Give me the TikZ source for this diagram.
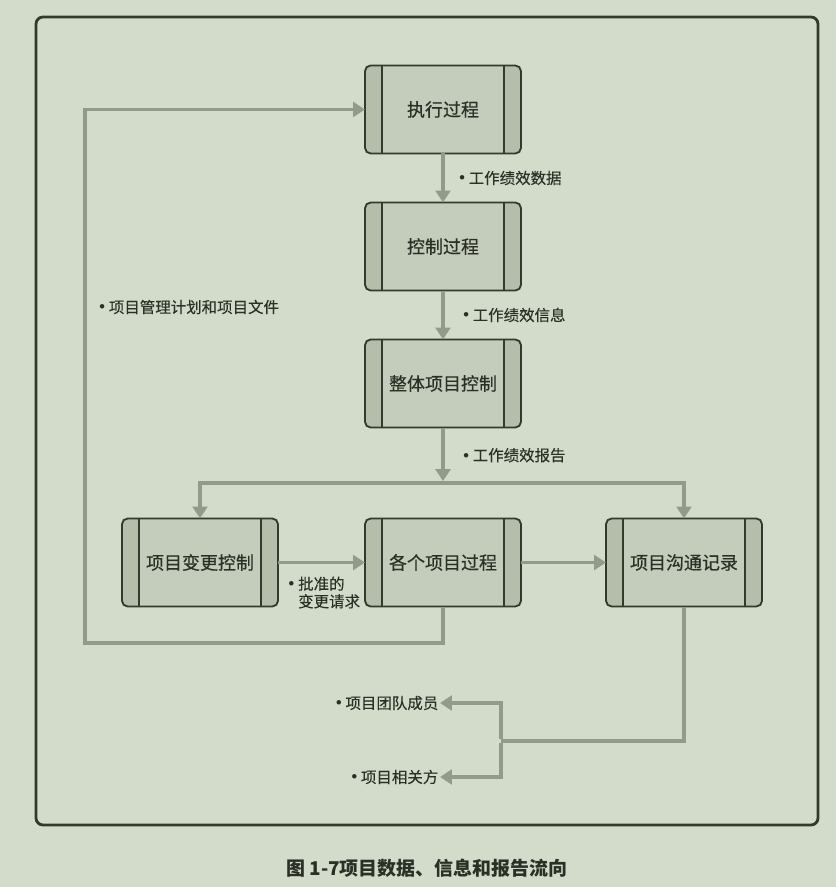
\documentclass[tikz,border=0pt]{standalone}
\usepackage{fontspec}
\setmainfont{Noto Sans CJK SC}
\newfontfamily\boxfont[FakeBold=0.5]{Noto Sans CJK SC}
\newfontfamily\lblfont[FakeBold=0.2]{Noto Sans CJK SC}
\newfontfamily\symfont{DejaVu Sans}
\newcommand{\bul}{{\symfont •}\hspace{1.5pt}}
\usetikzlibrary{arrows.meta, positioning}
\definecolor{bgcol}{RGB}{211,220,203}
\definecolor{nodefill}{RGB}{196,204,187}
\definecolor{stripfill}{RGB}{181,190,171}
\definecolor{nodeline}{RGB}{50,58,44}
\definecolor{arrowgray}{RGB}{145,155,138}
\definecolor{textdark}{RGB}{42,48,38}

\begin{document}
\begin{tikzpicture}[
    node distance=1.225cm,
    procbox/.style={rectangle, rounded corners=4pt, draw=nodeline,
                    line width=1.3pt, fill=nodefill, outer sep=0pt,
                    minimum width=3.9cm, minimum height=2.2cm,
                    text=textdark, font=\boxfont\fontsize{12.8}{15}\selectfont,
                    path picture={
                      \fill[stripfill, sharp corners] (path picture bounding box.north west)
                        rectangle ([xshift=0.425cm]path picture bounding box.south west);
                      \fill[stripfill, sharp corners] (path picture bounding box.north east)
                        rectangle ([xshift=-0.425cm]path picture bounding box.south east);
                      \draw[nodeline, line width=1.3pt] ([xshift=0.425cm]path picture bounding box.north west)
                        -- ([xshift=0.425cm]path picture bounding box.south west);
                      \draw[nodeline, line width=1.3pt] ([xshift=-0.425cm]path picture bounding box.north east)
                        -- ([xshift=-0.425cm]path picture bounding box.south east);
                    }},
    lbl/.style={inner sep=1pt, text=textdark, font=\lblfont\fontsize{11}{12.5}\selectfont},
    arr/.style={-{Triangle[length=8.5pt, width=10.5pt]}, line width=2.7pt, draw=arrowgray},
    conn/.style={line width=2.7pt, draw=arrowgray},
    frame/.style={draw=nodeline, line width=2pt, rounded corners=5pt}
]

%% ── Background and frame ──
\fill[bgcol] (0,0) rectangle (20.9,-22.175);
\useasboundingbox (0,0) rectangle (20.9,-22.175);
\draw[frame] (0.9,-0.425) rectangle (20.45,-20.625);

%% ── Column: main processes ──
\node[procbox] (exec) at (11.075,-2.7375) {执行过程};
\node[procbox, below=of exec]  (ctrl)  {控制过程};
\node[procbox, below=of ctrl]  (integ) {整体项目控制};

%% ── Row: change, processes, communication ──
\node[procbox, below=2.275cm of integ]  (proc) {各个项目过程};
\node[procbox, left=2.175cm of proc]    (chg)  {项目变更控制};
\node[procbox, right=2.125cm of proc]   (comm) {项目沟通记录};

%% ── Helper points ──
\coordinate (split)  at (11.075,-12.075);
\coordinate (loopbl) at (2.125,-16.075);
\coordinate (fork)   at (12.525,-18.525);

%% ── Vertical flow ──
\draw[arr] (exec) -- node[lbl, right=0.28cm] {\bul 工作绩效数据} (ctrl);
\draw[arr] (ctrl) -- node[lbl, right=0.38cm] {\bul 工作绩效信息} (integ);
\draw[arr, shorten >=1.35pt] (integ) -- node[lbl, right=0.38cm] {\bul 工作绩效报告} (split);
\draw[arr] (split) -| (chg);
\draw[arr] (split) -| (comm);

%% ── Row arrows ──
\draw[arr] (chg) -- node[lbl, below=0.27cm, xshift=0.05cm, align=left]
    {\bul 批准的\\\phantom{\bul}变更请求} (proc);
\draw[arr] (proc) -- (comm);

%% ── Feedback loop ──
\draw[arr] (proc.south) |- (loopbl) |- (exec.west);
\node[lbl, anchor=west] (planlbl) at (2.4,-7.675) {\bul 项目管理计划和项目文件};

%% ── Distribution ──
\node[lbl, anchor=east] (team)  at (11.0,-17.575) {\bul 项目团队成员};
\node[lbl, anchor=east] (stake) at (11.0,-19.425) {\bul 项目相关方};
\draw[conn] (comm.south) |- (fork);
\draw[arr] ([yshift=1.35pt]fork) |- (team.east);
\draw[arr] ([yshift=-1.35pt]fork) |- (stake.east);

%% ── Caption ──
\node[text=textdark, font=\bfseries\fontsize{13.5}{16}\selectfont] (caption)
    at (10.675,-21.7) {图 1-7项目数据、信息和报告流向};

\end{tikzpicture}
\end{document}
